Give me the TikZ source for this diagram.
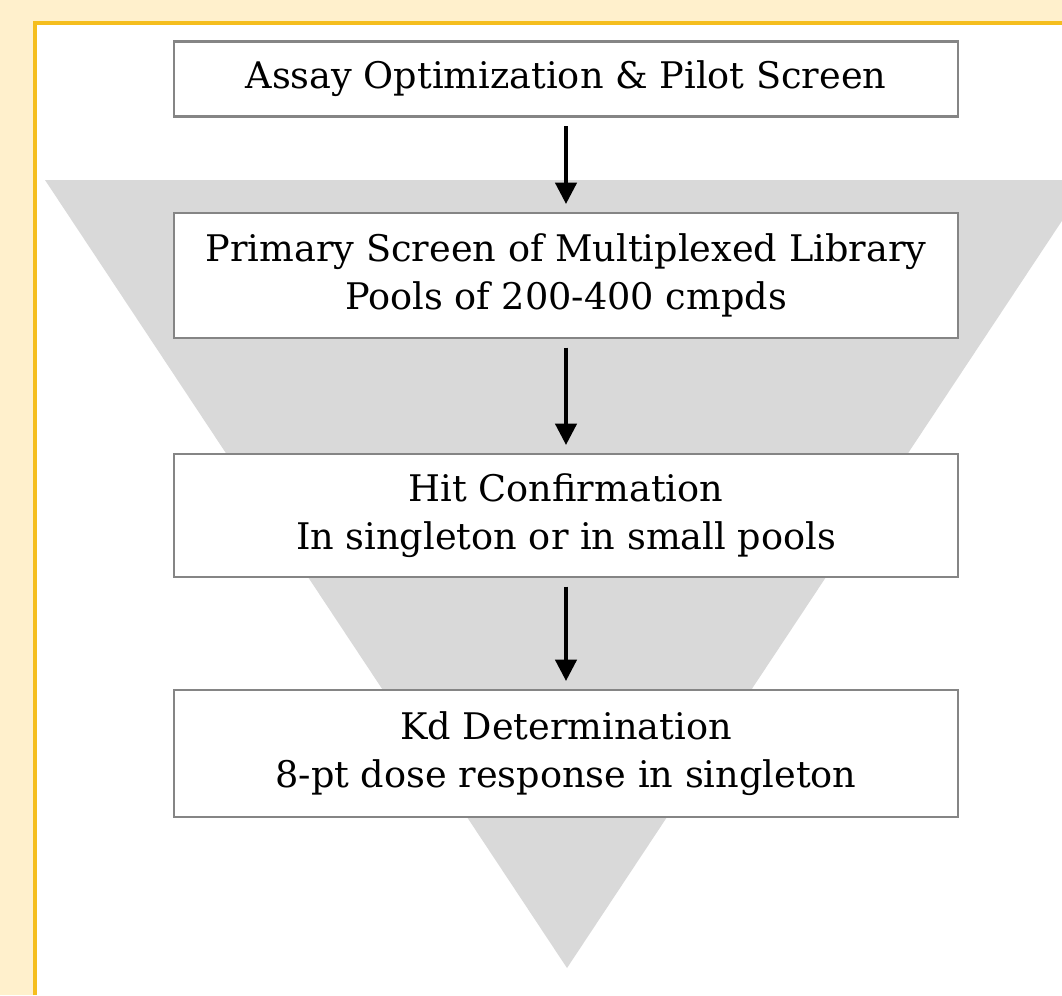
\documentclass[tikz,border=0pt]{standalone}
\usepackage{fontspec}
\setmainfont{DejaVu Serif}
\usetikzlibrary{arrows.meta}
\definecolor{paper}{HTML}{FFF0CC}
\definecolor{gold}{HTML}{F5BE1E}
\definecolor{funnel}{HTML}{D9D9D9}
\definecolor{boxline}{HTML}{858585}
\tikzset{
  stagebox/.style={draw=boxline, line width=1.6pt, fill=white, align=center,
    minimum width=588pt, inner sep=0pt,
    execute at begin node={\vspace*{4pt}},
    font=\fontsize{27.5}{35.5}\selectfont},
  flow/.style={line width=2.6pt, -{Triangle[width=16pt,length=16pt]},
    shorten <=6.5pt, shorten >=6pt}
}
\begin{document}
\begin{tikzpicture}[x=0.75pt, y=-0.75pt]
  \useasboundingbox (0,0) rectangle (1062,995);
  \clip (0,0) rectangle (1062,995);
  % page background and framed panel
  \fill[paper] (0,0) rectangle (1062,995);
  \fill[white] (35,23) rectangle (1062,995);
  \draw[gold, line width=3.5pt] (35,995) -- (35,23) -- (1062,23);
  % funnel
  \fill[funnel] (45,180) -- (1089,180) -- (567,968) -- cycle;
  % stages
  \node[stagebox, minimum height=56.25pt] (s1) at (566,79)
    {Assay Optimization \& Pilot Screen};
  \node[stagebox, minimum height=93.75pt] (s2) at (566,275.5)
    {Primary Screen of Multiplexed Library\\Pools of 200-400 cmpds};
  \node[stagebox, minimum height=92.25pt] (s3) at (566,515.5)
    {Hit Confirmation\\In singleton or in small pools};
  \node[stagebox, minimum height=95.25pt] (s4) at (566,753.5)
    {Kd Determination\\8-pt dose response in singleton};
  % flow arrows
  \draw[flow] (s1) -- (s2);
  \draw[flow] (s2) -- (s3);
  \draw[flow] (s3) -- (s4);
\end{tikzpicture}
\end{document}
